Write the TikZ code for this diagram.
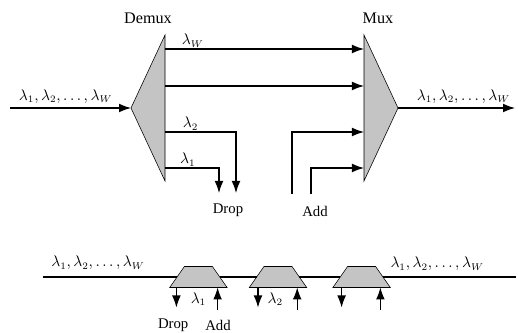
\documentclass[tikz,border=0pt]{standalone}
\usepackage{fontspec}
\setmainfont{Liberation Serif}
\usetikzlibrary{shapes.geometric, arrows.meta, positioning}
\definecolor{muxgray}{RGB}{196, 196, 196}

\begin{document}
\begin{tikzpicture}[
    font=\fontsize{10.5}{12}\selectfont,
    mux/.style={isosceles triangle, isosceles triangle stretches, draw, fill=muxgray,
        minimum width=3.65cm, minimum height=0.85cm, inner sep=0pt, outer sep=0pt},
    oadm/.style={trapezium, trapezium left angle=55, trapezium right angle=55, draw, fill=muxgray,
        inner xsep=0.35cm, inner ysep=0.2625cm, outer sep=0pt},
    arrow/.style={thick,-{Latex[length=3mm,width=2.2mm]}},
    lbl/.style={inner sep=1pt}
]
    \useasboundingbox (0,0) rectangle (12.95,-8.325);

    % Top: demux and mux
    \node[mux, shape border rotate=180, anchor=apex] (demux) at (3.275,-2.7) {};
    \node[mux, anchor=apex] (mux) at (9.95,-2.7) {};
    \node[lbl, font=\fontsize{11.5}{13}\selectfont] (demuxlabel) at (3.7,-0.45) {Demux};
    \node[lbl, font=\fontsize{11.5}{13}\selectfont] (muxlabel) at (9.45,-0.45) {Mux};

    \coordinate (src) at (0.25,-2.7);
    \coordinate (sink) at (12.875,-2.7);
    \coordinate (drop1) at (5.475,-4.825);
    \coordinate (drop2) at (5.9,-4.825);
    \coordinate (add2) at (7.3,-4.85);
    \coordinate (add1) at (7.775,-4.85);
    \node[lbl] (droplabel) at (5.7,-5.25) {Drop};
    \node[lbl] (addlabel) at (7.875,-5.28) {Add};

    % Arrows
    \draw[arrow] (src) -- node[lbl, pos=0.46, above=2pt] {$\lambda_1, \lambda_2, \ldots, \lambda_W$} (demux.apex);
    \draw[arrow] (mux.apex) -- node[lbl, pos=0.56, above=2pt] {$\lambda_1, \lambda_2, \ldots, \lambda_W$} (sink);
    \draw[arrow] ([yshift=1.475cm]demux.east) -- node[lbl, pos=0.14, above] {$\lambda_W$} ([yshift=1.475cm]mux.west);
    \draw[arrow] ([yshift=0.55cm]demux.east) -- ([yshift=0.55cm]mux.west);
    \draw[arrow] ([yshift=-0.6cm]demux.east) -| node[lbl, pos=0.18, above] {$\lambda_2$} (drop2);
    \draw[arrow] ([yshift=-1.5cm]demux.east) -| node[lbl, pos=0.21, above] {$\lambda_1$} (drop1);
    \draw[arrow] (add2) |- ([yshift=-0.6cm]mux.west);
    \draw[arrow] (add1) |- ([yshift=-1.5cm]mux.west);

    % Bottom: chain of add/drop multiplexers
    \coordinate (ringin) at (1.075,-6.925);
    \coordinate (ringout) at (12.9,-6.925);
    \node[oadm] (oadm1) at (4.96,-6.925) {};
    \node[oadm] (oadm2) at (6.95,-6.925) {};
    \node[oadm] (oadm3) at (9.04,-6.925) {};
    \draw[thick] (ringin) -- (oadm1) -- (oadm2) -- (oadm3) -- (ringout);
    \node[lbl] (ringinlabel) at (2.45,-6.575) {$\lambda_1, \lambda_2, \ldots, \lambda_W$};
    \node[lbl] (ringoutlabel) at (10.93,-6.6) {$\lambda_1, \lambda_2, \ldots, \lambda_W$};

    \draw[arrow] ([xshift=-0.55cm]oadm1.south) -- ++(0,-0.5);
    \draw[arrow] ([xshift=0.48cm,yshift=-0.56cm]oadm1.south) -- ([xshift=0.48cm]oadm1.south);
    \draw[arrow] ([xshift=-0.5cm]oadm2.south) -- ++(0,-0.5);
    \draw[arrow] ([xshift=0.48cm,yshift=-0.56cm]oadm2.south) -- ([xshift=0.48cm]oadm2.south);
    \draw[arrow] ([xshift=-0.5cm]oadm3.south) -- ++(0,-0.5);
    \draw[arrow] ([xshift=0.47cm,yshift=-0.56cm]oadm3.south) -- ([xshift=0.47cm]oadm3.south);

    \node[lbl, below=0.08cm of oadm1] (oadm1label) {$\lambda_1$};
    \node[lbl, below=0.08cm of oadm2, xshift=-0.07cm] (oadm2label) {$\lambda_2$};
    \node[lbl] (ringdrop) at (4.33,-8.125) {Drop};
    \node[lbl] (ringadd) at (5.45,-8.125) {Add};
\end{tikzpicture}
\end{document}
